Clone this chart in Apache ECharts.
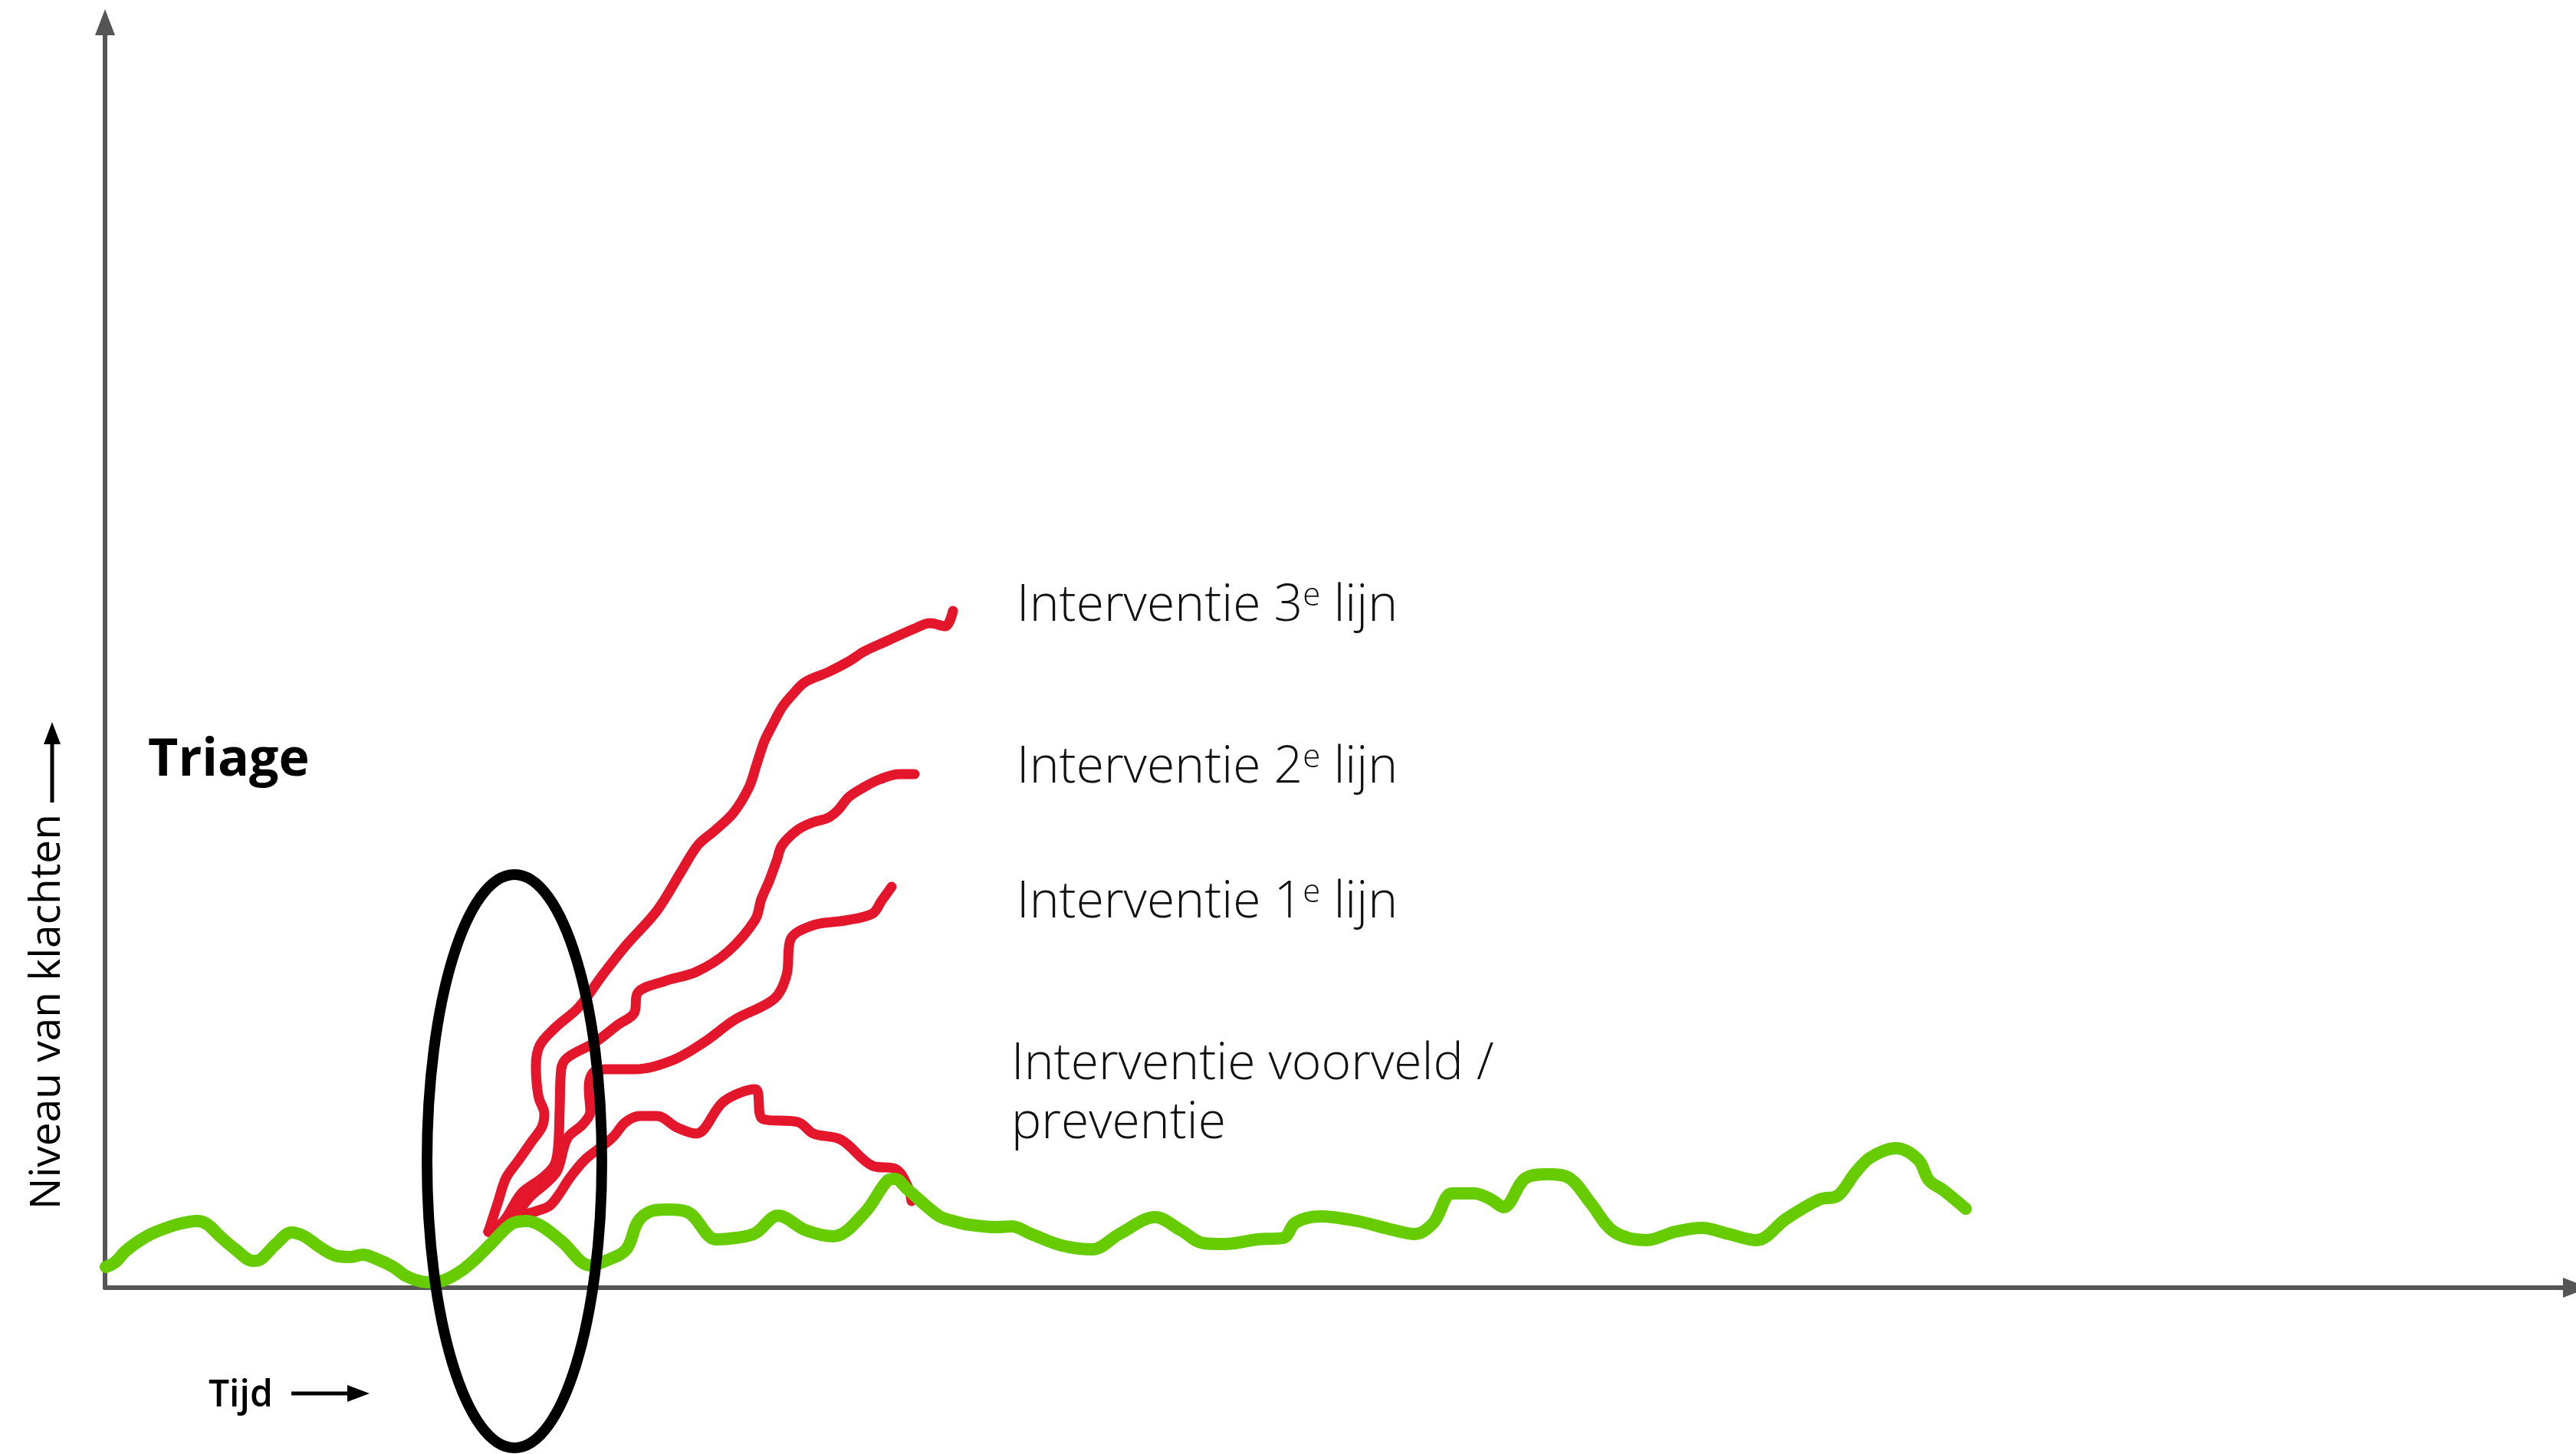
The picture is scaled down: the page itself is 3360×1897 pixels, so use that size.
<!DOCTYPE html>
<html>
<head>
<meta charset="utf-8">
<script src="https://cdn.jsdelivr.net/npm/echarts@6/dist/echarts.min.js"></script>
<style>
html,body{margin:0;padding:0;background:#ffffff;}
#chart{width:3360px;height:1897px;}
</style>
</head>
<body>
<div id="chart"></div>
<script>
// ---- Data (time units on x, complaint level on y) ----
const basisLijn = [[1,27],[13,33],[26,47],[43,60],[60,70],[80,78],[100,84],[120,87],[133,83],[150,67],[170,50],[193,35],[203,37],[223,57],[243,72],[260,67],[280,53],[300,42],[320,40],[336,43],[353,38],[376,27],[393,15],[413,8],[426,7],[443,10],[466,23],[486,40],[503,57],[530,83],[550,87],[570,80],[596,60],[633,29],[653,35],[680,50],[695,86],[713,100],[733,102],[761,98],[797,63],[823,65],[848,71],[878,94],[914,75],[950,67],[991,98],[1021,140],[1030,142],[1047,128],[1087,94],[1106,87],[1128,82],[1163,79],[1183,80],[1208,70],[1248,55],[1288,50],[1323,70],[1370,92],[1403,75],[1433,58],[1461,57],[1503,63],[1537,65],[1553,85],[1585,93],[1633,87],[1673,77],[1709,70],[1733,85],[1757,123],[1786,123],[1808,115],[1824,105],[1853,143],[1882,148],[1910,143],[1938,110],[1968,73],[2011,62],[2048,73],[2083,78],[2118,70],[2154,62],[2193,90],[2236,115],[2260,120],[2283,150],[2303,170],[2336,182],[2365,167],[2379,140],[2398,127],[2427,103]];

const lijn3 = [[500,73],[513,113],[523,143],[540,167],[556,190],[570,210],[573,227],[566,247],[563,267],[562,289],[567,316],[587,339],[618,366],[649,408],[679,446],[720,492],[751,542],[773,577],[796,597],[820,620],[840,653],[850,683],[860,713],[870,733],[883,757],[896,773],[913,790],[943,803],[970,817],[990,830],[1016,842],[1056,860],[1076,867],[1096,863],[1106,883]];

const lijn2 = [[500,73],[520,87],[543,123],[570,143],[586,160],[591,183],[593,233],[595,285],[603,300],[639,320],[669,343],[690,358],[695,385],[730,400],[771,412],[812,438],[848,480],[856,507],[866,530],[876,557],[883,577],[903,597],[923,607],[943,613],[956,623],[970,640],[990,653],[1010,663],[1036,670],[1056,670]];

const lijn1 = [[500,73],[530,90],[556,120],[576,137],[590,153],[603,195],[623,213],[633,230],[631,260],[636,280],[653,285],[690,285],[741,297],[781,320],[822,350],[873,377],[889,408],[894,454],[924,473],[965,479],[1001,488],[1013,505],[1026,523]];

const voorveld = [[500,73],[540,93],[563,100],[580,107],[593,123],[606,143],[626,167],[649,185],[663,197],[679,216],[698,224],[720,224],[746,209],[771,201],[807,243],[848,259],[858,220],[904,216],[924,201],[960,193],[1001,159],[1031,155],[1047,132],[1052,113]];

// triage moment: [centre x, centre y, half width, half height]
const triageZone = [[534,165,114,374]];

const labelTexts = ['Interventie 3', 'Interventie 2', 'Interventie 1'];
const supText = 'e';
const lijnText = ' lijn';
const voorveldText = 'Interventie voorveld /\npreventie';
const triageText = 'Triage';
const yName = 'Niveau van klachten';
const xName = 'Tijd';

const RED = '#e3162b';
const GREEN = '#66cc00';
const AXIS = '#555555';

const chart = echarts.init(document.getElementById('chart'), null, {renderer: 'canvas'});

function redSeries(name, data) {
  return {
    name: name, type: 'line', data: data, smooth: 0.35, showSymbol: false, symbol: 'none',
    lineStyle: {color: RED, width: 13, cap: 'round', join: 'round'}, z: 3, animation: false
  };
}

const richStyles = {
  m: {fontFamily: 'Open Sans', fontWeight: 300, fontSize: 66, lineHeight: 68, fill: '#111', color: '#111'},
  s: {fontFamily: 'Open Sans', fontWeight: 300, fontSize: 42, lineHeight: 28, verticalAlign: 'top', fill: '#111', color: '#111'}
};

function supLabel(main, y) {
  return {
    type: 'text', x: 1326, y: y, z: 10,
    style: {
      text: '{m|' + main + '}{s|' + supText + '}{m|' + lijnText + '}',
      rich: richStyles, align: 'left', verticalAlign: 'middle', fill: '#111'
    }
  };
}

chart.setOption({
  backgroundColor: '#ffffff',
  animation: false,
  grid: {left: 137, right: 0, top: 29, bottom: 217, containLabel: false},
  xAxis: {
    type: 'value', min: 0, max: 3223,
    axisLine: {show: true, lineStyle: {color: AXIS, width: 6}, symbol: ['none', 'triangle'], symbolSize: [26, 34]},
    axisTick: {show: false}, axisLabel: {show: false}, splitLine: {show: false}
  },
  yAxis: {
    type: 'value', min: 0, max: 1651,
    axisLine: {show: true, lineStyle: {color: AXIS, width: 6}, symbol: ['none', 'triangle'], symbolSize: [26, 34]},
    axisTick: {show: false}, axisLabel: {show: false}, splitLine: {show: false}
  },
  series: [
    redSeries('Interventie voorveld / preventie', voorveld),
    redSeries('Interventie 1e lijn', lijn1),
    redSeries('Interventie 2e lijn', lijn2),
    redSeries('Interventie 3e lijn', lijn3),
    {
      name: 'Basis', type: 'line', data: basisLijn, smooth: 0.35, showSymbol: false, symbol: 'none',
      lineStyle: {color: GREEN, width: 16, cap: 'round', join: 'round'}, z: 4, animation: false
    },
    {
      name: 'Triage', type: 'custom', data: triageZone, z: 6, clip: false, animation: false,
      renderItem: function (params, api) {
        const c = api.coord([api.value(0), api.value(1)]);
        const s = api.size([api.value(2), api.value(3)]);
        return {
          type: 'ellipse',
          shape: {cx: c[0], cy: c[1], rx: s[0], ry: s[1]},
          style: {fill: 'none', stroke: '#000000', lineWidth: 14}
        };
      }
    }
  ],
  graphic: [
    supLabel(labelTexts[0], 791),
    supLabel(labelTexts[1], 1002),
    supLabel(labelTexts[2], 1178),
    {
      type: 'text', x: 1319, y: 1428, z: 10,
      style: {text: voorveldText, fontFamily: 'Open Sans', fontWeight: 300, fontSize: 66, lineHeight: 77, fill: '#111', align: 'left', verticalAlign: 'middle'}
    },
    {
      type: 'text', x: 193, y: 993, z: 10,
      style: {text: triageText, fontFamily: 'Open Sans', fontWeight: 'bold', fontSize: 68, fill: '#000', align: 'left', verticalAlign: 'middle'}
    },
    {
      type: 'text', x: 62, y: 1320, rotation: Math.PI / 2, z: 10,
      style: {text: yName, fontFamily: 'Open Sans', fontWeight: 500, fontSize: 55, fill: '#000', align: 'center', verticalAlign: 'middle'}
    },
    {type: 'line', z: 10, shape: {x1: 68, y1: 1047, x2: 68, y2: 966}, style: {stroke: '#000', lineWidth: 5}},
    {type: 'polygon', z: 10, shape: {points: [[68, 942], [57, 971], [79, 971]]}, style: {fill: '#000'}},
    {
      type: 'text', x: 272, y: 1821, z: 10,
      style: {text: xName, fontFamily: 'Open Sans', fontWeight: 600, fontSize: 48, fill: '#000', align: 'left', verticalAlign: 'middle'}
    },
    {type: 'line', z: 10, shape: {x1: 380, y1: 1818, x2: 458, y2: 1818}, style: {stroke: '#000', lineWidth: 5}},
    {type: 'polygon', z: 10, shape: {points: [[482, 1818], [453, 1807], [453, 1829]]}, style: {fill: '#000'}}
  ]
});
</script>
</body>
</html>
